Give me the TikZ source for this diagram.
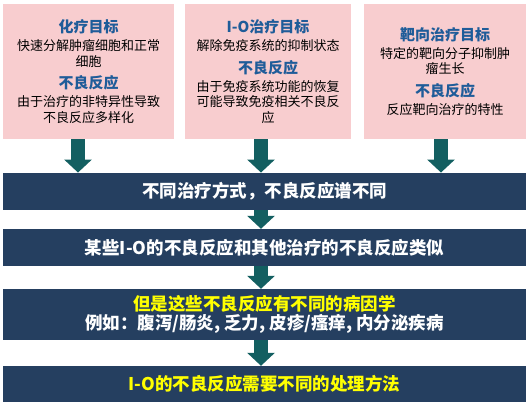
\documentclass[tikz,border=0pt]{standalone}
\usepackage{fontspec}
\setmainfont{Noto Sans CJK SC}
\usetikzlibrary{arrows.meta}
\definecolor{pinkbg}{HTML}{F8CDCF}
\definecolor{navy}{HTML}{253F60}
\definecolor{tealarrow}{HTML}{135F61}
\definecolor{headblue}{HTML}{1F5C99}
\definecolor{ylw}{HTML}{FFFF00}
\tikzset{
  pinkbox/.style={fill=pinkbg, draw=none, align=center, inner sep=0pt,
    font=\fontsize{13}{15.5}\selectfont, text=black},
  bar/.style={fill=navy, draw=none, align=center, inner sep=0pt,
    minimum width=523pt, font=\fontsize{17.5}{18.5}\selectfont\bfseries, text=white},
  bigarrow/.style={draw=tealarrow, line width=13.6pt,
    -{Triangle[width=27pt,length=13pt]}},
}
\newcommand{\hd}[1]{{\fontsize{15}{15.5}\selectfont\bfseries\color{headblue}#1}}
\begin{document}
\begin{tikzpicture}[x=1pt,y=-1pt]
\useasboundingbox (0,0) rectangle (530,405);
% top boxes
\node[pinkbox, minimum width=171pt, minimum height=135pt] (b1) at (88.5,71.5)
  {\hd{化疗目标}\\[2.5pt]快速分解肿瘤细胞和正常\\细胞\\[7pt]\hd{不良反应}\\[2.5pt]由于治疗的非特异性导致\\不良反应多样化};
\node[pinkbox, minimum width=166pt, minimum height=135pt] (b2) at (268,71.5)
  {\hd{I-O治疗目标}\\[2.5pt]解除免疫系统的抑制状态\\[7pt]\hd{不良反应}\\[2.5pt]由于免疫系统功能的恢复\\可能导致免疫相关不良反\\应};
\node[pinkbox, minimum width=162pt, minimum height=135pt] (b3) at (445,71.5)
  {\hd{靶向治疗目标}\\[2.5pt]特定的靶向分子抑制肿\\瘤生长\\[7pt]\hd{不良反应}\\[2.5pt]反应靶向治疗的特性};
% bars
\node[bar, minimum height=37.3pt] (r1) at (264.5,191.4) {不同治疗方式，不良反应谱不同};
\node[bar, minimum height=37pt] (r2) at (264.5,247.5) {某些I-O的不良反应和其他治疗的不良反应类似};
\node[bar, minimum height=51pt] (r3) at (264.5,314.5)
  {\textcolor{ylw}{但是这些不良反应有不同的病因学}\\例如：腹泻/肠炎, 乏力, 皮疹/瘙痒, 内分泌疾病};
\node[bar, minimum height=36pt, text=ylw] (r4) at (264.5,384) {I-O的不良反应需要不同的处理方法};
% arrows
\draw[bigarrow] (b1.south -| 78,0) -- (r1.north -| 78,0);
\draw[bigarrow] (b2.south -| 261,0) -- (r1.north -| 261,0);
\draw[bigarrow] (b3.south -| 441,0) -- (r1.north -| 441,0);
\draw[bigarrow] (r1.south -| 261,0) -- (r2.north -| 261,0);
\draw[bigarrow] (r2.south -| 261,0) -- (r3.north -| 261,0);
\draw[bigarrow] (r3.south -| 261,0) -- (r4.north -| 261,0);
\end{tikzpicture}
\end{document}
